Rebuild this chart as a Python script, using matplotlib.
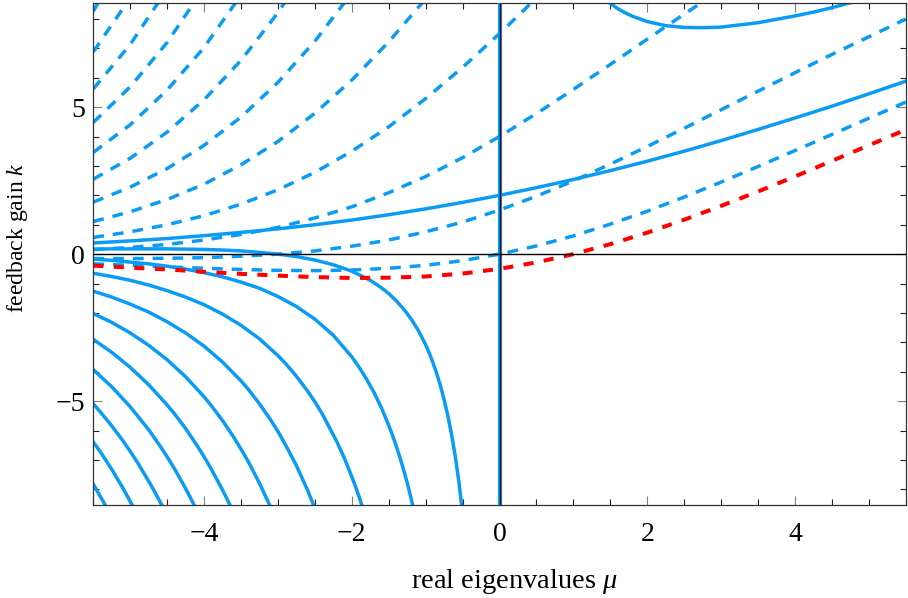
import matplotlib
matplotlib.use("Agg")
import matplotlib.pyplot as plt
from matplotlib.ticker import MultipleLocator

plt.rcParams['font.family'] = ['Liberation Serif', 'DejaVu Serif']
plt.rcParams['mathtext.fontset'] = 'custom'
plt.rcParams['mathtext.rm'] = 'Liberation Serif'
plt.rcParams['mathtext.it'] = 'Liberation Serif:italic'

# ---------------- data ----------------
mu_grid = [-5.5, -5.0, -4.5, -4.0, -3.5, -3.0, -2.5, -2.0, -1.5, -1.0, -0.5,
           0.0, 0.5, 1.0, 1.5, 2.0, 2.5, 3.0, 3.5, 4.0, 4.5, 5.0, 5.5]

# dashed branches (values on mu_grid, truncated once they leave the top)
red_dashed_k = [-0.39, -0.46, -0.52, -0.60, -0.67, -0.73, -0.78, -0.81, -0.80, -0.76, -0.66,
                -0.50, -0.28, 0.00, 0.34, 0.73, 1.17, 1.64, 2.13, 2.64, 3.17, 3.70, 4.23]
dashed_k1 = [-0.33, -0.38, -0.43, -0.48, -0.52, -0.55, -0.56, -0.54, -0.48, -0.38, -0.22,
             0.00, 0.28, 0.62, 1.02, 1.46, 1.94, 2.45, 2.98, 3.52, 4.07, 4.62, 5.17]
dashed_k2 = [-0.15, -0.15, -0.14, -0.12, -0.07, 0.00, 0.11, 0.27, 0.48, 0.76, 1.09,
             1.50, 1.97, 2.49, 3.06, 3.66, 4.28, 4.91, 5.54, 6.17, 6.79, 7.39, 7.99]
dashed_k3 = [0.15, 0.23, 0.33, 0.48, 0.67, 0.91, 1.23, 1.61, 2.09, 2.64, 3.28,
             4.00, 4.78, 5.60, 6.45, 7.31, 8.16, 8.99]
dashed_k4 = [0.57, 0.76, 1.00, 1.31, 1.70, 2.19, 2.78, 3.50, 4.33, 5.29, 6.35, 7.50, 8.71]
dashed_k5 = [1.11, 1.44, 1.86, 2.38, 3.04, 3.83, 4.79, 5.92, 7.22, 8.68]
dashed_k6 = [1.77, 2.28, 2.91, 3.70, 4.66, 5.84, 7.24, 8.88]
dashed_k7 = [2.55, 3.26, 4.15, 5.25, 6.59, 8.21, 10.13]
dashed_k8 = [3.46, 4.40, 5.58, 7.03, 8.81]
dashed_k9 = [4.48, 5.69, 7.20, 9.06]
dashed_k10 = [5.62, 7.13, 9.01]
dashed_k11 = [6.88, 8.72]
dashed_k12 = [8.26, 10.47]

# solid branches
solid_k1 = [0.38, 0.45, 0.53, 0.63, 0.74, 0.86, 1.00, 1.16, 1.34, 1.54, 1.76,
            2.00, 2.26, 2.54, 2.84, 3.16, 3.50, 3.86, 4.24, 4.63, 5.03, 5.45, 5.88]

solid2_left_mu = [-5.5, -5.25, -5.0, -4.75, -4.5, -4.25, -4.0, -3.75, -3.5, -3.25, -3.0,
                  -2.75, -2.5, -2.25, -2.0, -1.75, -1.6, -1.5, -1.4, -1.3, -1.2, -1.1,
                  -1.0, -0.95, -0.9, -0.85, -0.8, -0.75, -0.7, -0.65, -0.6, -0.55, -0.5]
solid2_left_k = [0.17, 0.18, 0.18, 0.18, 0.18, 0.17, 0.16, 0.14, 0.11, 0.06, 0.00,
                 -0.08, -0.20, -0.36, -0.58, -0.89, -1.14, -1.34, -1.58, -1.86, -2.19, -2.59,
                 -3.08, -3.37, -3.70, -4.06, -4.47, -4.95, -5.49, -6.12, -6.86, -7.74, -8.80]

solid2_right_mu = [1.2, 1.4, 1.5, 1.6, 1.7, 1.8, 2.0, 2.25, 2.5, 2.75, 3.0, 3.5, 4.0,
                   4.25, 4.5, 4.75, 5.0]
solid2_right_k = [9.31, 8.74, 8.53, 8.35, 8.21, 8.09, 7.91, 7.77, 7.71, 7.70, 7.72, 7.87,
                  8.10, 8.23, 8.38, 8.55, 8.72]

solid3_mu = [-5.5, -5.25, -5.0, -4.75, -4.5, -4.25, -4.0, -3.75, -3.5, -3.25, -3.0, -2.75,
             -2.5, -2.25, -2.0, -1.9, -1.8, -1.7, -1.6, -1.5, -1.45, -1.4, -1.35, -1.3,
             -1.25, -1.2, -1.15]
solid3_k = [-0.17, -0.21, -0.27, -0.33, -0.41, -0.51, -0.63, -0.77, -0.95, -1.16, -1.44, -1.78,
            -2.21, -2.76, -3.49, -3.85, -4.25, -4.70, -5.22, -5.82, -6.15, -6.51, -6.90, -7.32,
            -7.77, -8.27, -8.82]

solid4_mu = [-5.5, -5.25, -5.0, -4.75, -4.5, -4.25, -4.0, -3.75, -3.5, -3.25, -3.0, -2.9,
             -2.75, -2.6, -2.5, -2.4, -2.2, -2.1, -2.0, -1.95, -1.9, -1.85]
solid4_k = [-0.65, -0.76, -0.89, -1.05, -1.24, -1.46, -1.72, -2.04, -2.42, -2.88, -3.45, -3.71,
            -4.15, -4.65, -5.02, -5.43, -6.39, -6.94, -7.57, -7.90, -8.26, -8.64]

solid5_mu = [-5.5, -5.25, -5.0, -4.75, -4.5, -4.25, -4.0, -3.75, -3.5, -3.4, -3.25, -3.1,
             -3.0, -2.9, -2.75, -2.6, -2.5]
solid5_k = [-1.26, -1.46, -1.70, -1.97, -2.30, -2.68, -3.13, -3.67, -4.31, -4.60, -5.09, -5.63,
            -6.03, -6.47, -7.19, -8.02, -8.64]

solid6_mu = [-5.5, -5.25, -5.0, -4.75, -4.5, -4.25, -4.0, -3.9, -3.75, -3.6, -3.5, -3.4,
             -3.25, -3.1]
solid6_k = [-2.02, -2.32, -2.68, -3.10, -3.59, -4.17, -4.85, -5.16, -5.66, -6.22, -6.63, -7.06,
            -7.79, -8.60]

solid7_mu = [-5.5, -5.25, -5.0, -4.75, -4.5, -4.4, -4.25, -4.1, -4.0, -3.9, -3.75, -3.7, -3.6]
solid7_k = [-2.90, -3.34, -3.85, -4.44, -5.13, -5.43, -5.93, -6.49, -6.89, -7.32, -8.02, -8.27,
            -8.79]

solid8_mu = [-5.5, -5.25, -5.0, -4.75, -4.6, -4.5, -4.4, -4.25, -4.2, -4.1]
solid8_k = [-3.93, -4.51, -5.19, -5.97, -6.51, -6.89, -7.30, -7.97, -8.21, -8.70]

solid9_mu = [-5.5, -5.4, -5.25, -5.1, -5.0, -4.9, -4.75, -4.7, -4.6, -4.55]
solid9_k = [-5.09, -5.38, -5.84, -6.34, -6.71, -7.09, -7.72, -7.94, -8.40, -8.65]

solid10_mu = [-5.5, -5.4, -5.25, -5.1, -5.0, -4.95]
solid10_k = [-6.39, -6.74, -7.32, -7.95, -8.41, -8.64]

solid11_mu = [-5.5, -5.4, -5.35, -5.3]
solid11_k = [-7.82, -8.26, -8.48, -8.72]

zero_mode_mu = 0.0

x_ticks = [-4, -2, 0, 2, 4]
y_ticks = [-5, 0, 5]
x_lim = (-5.5, 5.5)
y_lim = (-8.53, 8.53)

# ---------------- drawing ----------------
BLUE = '#0a9cf5'
RED = '#ff0000'
LW = 2.5

fig = plt.figure(figsize=(9.08, 5.98), dpi=100)
ax = fig.add_axes([93.3 / 908, (598 - 505) / 598, 812.4 / 908, 501.7 / 598])

dashed_sets = [dashed_k1, dashed_k2, dashed_k3, dashed_k4, dashed_k5, dashed_k6,
               dashed_k7, dashed_k8, dashed_k9, dashed_k10, dashed_k11, dashed_k12]
for kvals in dashed_sets:
    ax.plot(mu_grid[:len(kvals)], kvals, color=BLUE, lw=LW, dashes=(3.1, 2.6),
            dash_capstyle='butt')

ax.plot(mu_grid, solid_k1, color=BLUE, lw=LW, solid_joinstyle='round')
solid_sets = [(solid2_left_mu, solid2_left_k), (solid2_right_mu, solid2_right_k),
              (solid3_mu, solid3_k), (solid4_mu, solid4_k), (solid5_mu, solid5_k),
              (solid6_mu, solid6_k), (solid7_mu, solid7_k), (solid8_mu, solid8_k),
              (solid9_mu, solid9_k), (solid10_mu, solid10_k), (solid11_mu, solid11_k)]
for m, kv in solid_sets:
    ax.plot(m, kv, color=BLUE, lw=LW, solid_joinstyle='round')

ax.plot(mu_grid, red_dashed_k, color=RED, lw=2.9, dashes=(2.5, 2.6),
        dash_capstyle='butt')

ax.axvline(zero_mode_mu, color=BLUE, lw=3.0, zorder=4)
ax.axhline(0, color='black', lw=1.0, zorder=5)
ax.axvline(0, color='black', lw=1.0, zorder=5)

ax.set_xlim(*x_lim)
ax.set_ylim(*y_lim)
ax.set_xticks(x_ticks)
ax.set_yticks(y_ticks)
ax.xaxis.set_minor_locator(MultipleLocator(0.5))
ax.yaxis.set_minor_locator(MultipleLocator(1.0))
ax.tick_params(which='both', direction='in', top=True, right=True)
ax.tick_params(which='major', length=6.5, width=0.8, color='#808080', labelsize=20)
ax.tick_params(which='minor', length=4.0, width=0.8, color='#222222')
ax.tick_params(axis='x', which='major', pad=12)
ax.tick_params(axis='y', which='major', pad=6)
for s in ax.spines.values():
    s.set_linewidth(0.9)
    s.set_color('#333333')

fig.text(514 / 908, (598 - 588) / 598, r'real eigenvalues $\mu$', ha='center',
         va='baseline', fontsize=20.5)
fig.text(17.5 / 908, (598 - 238) / 598, r'feedback gain $k$', ha='center',
         va='center', rotation=90, fontsize=17)

fig.savefig('out.png', dpi=100)
